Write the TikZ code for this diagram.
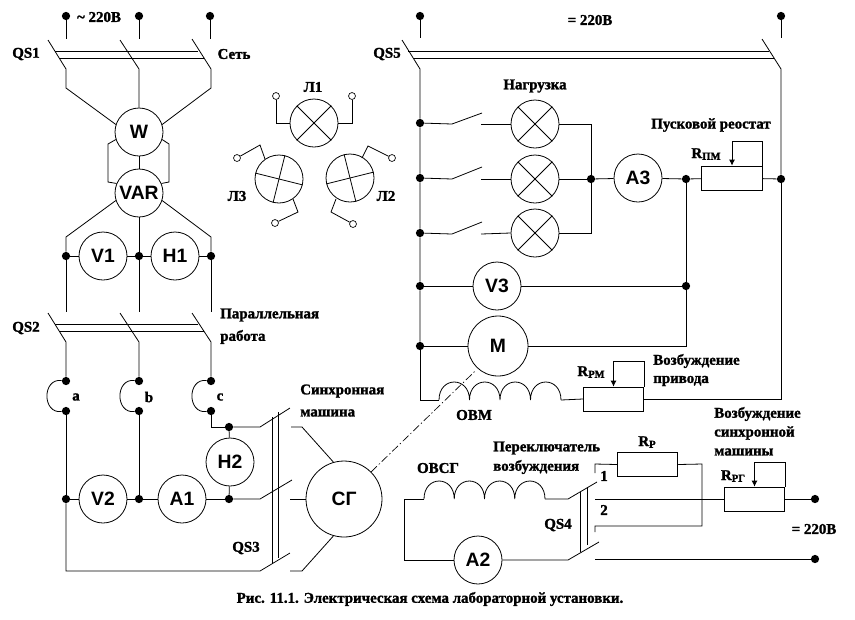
\documentclass[tikz,border=0pt]{standalone}
\usepackage{fontspec}
\setmainfont{Liberation Serif}[BoldFeatures={FakeBold=1.5}]
\newfontfamily\metfont{Liberation Sans}
\usetikzlibrary{arrows.meta}
\newcommand{\Rsb}[1]{R{\footnotesize\raisebox{-0.35ex}{#1}}}
\tikzset{
  wire/.style={line width=0.6pt,line join=miter},
  dotn/.style={circle,fill=black,inner sep=0pt,minimum size=6.2pt},
  openc/.style={circle,draw,line width=0.5pt,inner sep=0pt,minimum size=5.2pt},
  meter/.style={circle,draw,line width=0.6pt,inner sep=0pt,minimum size=36pt,font=\metfont\bfseries\fontsize{14.5}{16}\selectfont},
  lamp/.style={circle,draw,line width=0.6pt,inner sep=0pt,minimum size=36pt},
  rbox/.style={rectangle,draw,line width=0.6pt,inner sep=0pt,minimum width=45.5pt,minimum height=18pt},
  lbl/.style={font=\bfseries\fontsize{11.2}{12}\selectfont,inner sep=0pt},
  lbll/.style={lbl,anchor=west},
  slider/.style={wire,-{Latex[length=4.5pt,width=4.5pt]}},
  shaft/.style={line width=0.5pt,dash pattern=on 6pt off 2pt on 1pt off 2pt}
}
\begin{document}
\begin{tikzpicture}[x=0.75pt,y=-0.75pt]
\useasboundingbox (0,0) rectangle (855,619);
\fill[white] (0,0) rectangle (855,619);
% ---- top-left supply
\node[dotn] (t1) at (66,16) {};
\node[dotn] (t2) at (139,16) {};
\node[dotn] (t3) at (210,16) {};
\coordinate (t1e) at (66,39); \coordinate (t2e) at (139,39); \coordinate (t3e) at (210,39);
\draw[wire] (t1)--(t1e); \draw[wire] (t2)--(t2e); \draw[wire] (t3)--(t3e);
\node[meter] (W) at (139,132) {W};
\node[meter] (VAR) at (139,193) {VAR};
\node[meter] (V1) at (103,256) {V1};
\node[meter] (H1) at (175,256) {H1};
\node[dotn] (j1) at (66,256) {};
\node[dotn] (j2) at (139,256) {};
\node[dotn] (j3) at (211,256) {};
% QS1
\coordinate (q1a) at (48,40); \coordinate (q1b) at (120,40); \coordinate (q1c) at (192,39);
\draw[wire] (q1a)--(66,69)--(66,88)--(W.162);
\draw[wire] (q1b)--(139,69)--(W.north);
\draw[wire] (q1c)--(211,69)--(211,88)--(W.18);
\coordinate (b1l) at (55,51); \coordinate (b1r) at (198,51);
\coordinate (b2l) at (60,58); \coordinate (b2r) at (204,58);
\draw[wire] (b1l)--(b1r); \draw[wire] (b2l)--(b2r);
% W-VAR
\draw[wire] (W.198)--(108,144)--(108,182)--(VAR.157);
\draw[wire] (W.342)--(169,144)--(169,182)--(VAR.23);
\draw[wire] (W.south)--(VAR.north);
% VAR to buses
\draw[wire] (VAR.198)--(66,237)--(j1);
\draw[wire] (VAR.342)--(211,237)--(j3);
\draw[wire] (VAR.south)--(j2);
\draw[wire] (j1)--(V1)--(j2)--(H1)--(j3);
\coordinate (u1) at (66,312); \coordinate (u2) at (139,312); \coordinate (u3) at (211,312);
\draw[wire] (j1)--(u1); \draw[wire] (j2)--(u2); \draw[wire] (j3)--(u3);
% QS2
\node[dotn] (a1) at (66,381) {}; \node[dotn] (a2) at (66,411) {};
\node[dotn] (b1) at (139,381) {}; \node[dotn] (b2) at (139,411) {};
\node[dotn] (c1) at (211,381) {}; \node[dotn] (c2) at (211,411) {};
\coordinate (q2a) at (48,313); \coordinate (q2b) at (120,313); \coordinate (q2c) at (192,313);
\draw[wire] (q2a)--(66,342)--(a1);
\draw[wire] (q2b)--(139,342)--(b1);
\draw[wire] (q2c)--(211,342)--(c1);
\coordinate (b3l) at (55,324.5); \coordinate (b3r) at (198,324.5);
\coordinate (b4l) at (60,331); \coordinate (b4r) at (204,331);
\draw[wire] (b3l)--(b3r); \draw[wire] (b4l)--(b4r);
\draw[wire] (a1) .. controls (42,378) and (42,414) .. (a2);
\draw[wire] (b1) .. controls (115,378) and (115,414) .. (b2);
\draw[wire] (c1) .. controls (187,378) and (187,414) .. (c2);
% lower left
\node[meter] (V2) at (103,499) {V2};
\node[meter] (A1) at (182,499) {A1};
\node[meter] (H2) at (230,462) {H2};
\node[dotn] (k1) at (66,499) {};
\node[dotn] (k2) at (139,499) {};
\node[dotn] (k3) at (229,499) {};
\node[dotn] (k4) at (229,427) {};
\draw[wire] (a2)--(k1);
\draw[wire] (b2)--(k2);
\draw[wire] (c2)--(211,427)--(k4);
\draw[wire] (k1)--(V2)--(k2)--(A1)--(k3);
\draw[wire] (k4)--(H2)--(k3);
% QS3
\coordinate (s1) at (290,408); \coordinate (s2) at (292,480); \coordinate (s3) at (290,553);
\draw[wire] (k4)--(260,427)--(s1);
\draw[wire] (k3)--(260,499)--(s2);
\draw[wire] (k1)--(66,571)--(260,571)--(s3);
\coordinate (p1t) at (272,417); \coordinate (p1b) at (272,564);
\coordinate (p2t) at (278,412); \coordinate (p2b) at (278,558);
\draw[wire] (p1t)--(p1b); \draw[wire] (p2t)--(p2b);
\node[meter,minimum size=57pt] (SG) at (344,499) {СГ};
\coordinate (g1) at (291,427); \coordinate (g2) at (290,499); \coordinate (g3) at (290,571);
\draw[wire] (g1)--(302,427)--(SG.106);
\draw[wire] (g2)--(SG.west);
\draw[wire] (g3)--(302,571)--(SG.254);
% ---- lamps L1 L2 L3
\node[lamp] (L1) at (314,123) {};
\node[lamp] (L3) at (279,179) {};
\node[lamp] (L2) at (350,178) {};
\draw[wire] (L1.45)--(L1.225); \draw[wire] (L1.135)--(L1.315);
\draw[wire] (L3.76)--(L3.256); \draw[wire] (L3.166)--(L3.346);
\draw[wire] (L2.104)--(L2.284); \draw[wire] (L2.194)--(L2.14);
\node[openc] (o1) at (276,96) {};
\node[openc] (o2) at (352,96) {};
\node[openc] (o3) at (237,158) {};
\node[openc] (o4) at (275,223) {};
\node[openc] (o5) at (392,158) {};
\node[openc] (o6) at (353,224) {};
\draw[wire] (o1)--(276,123)--(L1.west);
\draw[wire] (o2)--(352,123)--(L1.east);
\draw[wire] (o3)--(260,145)--(265,159);
\draw[wire] (o4)--(298,212)--(293,199);
\draw[wire] (o5)--(368,146)--(362,158);
\draw[wire] (o6)--(331,212)--(336,199);
% ---- right top supply
\node[dotn] (t4) at (420,16) {};
\node[dotn] (t5) at (781,16) {};
\coordinate (t4e) at (420,38); \coordinate (t5e) at (781,38);
\draw[wire] (t4)--(t4e); \draw[wire] (t5)--(t5e);
\coordinate (q5a) at (402,40); \coordinate (q5b) at (762,39);
\coordinate (b5l) at (408,51); \coordinate (b5r) at (769,51);
\coordinate (b6l) at (413,58); \coordinate (b6r) at (774,58);
\draw[wire] (b5l)--(b5r); \draw[wire] (b6l)--(b6r);
\node[dotn] (n1) at (420,123) {};
\node[dotn] (n2) at (420,178) {};
\node[dotn] (n3) at (420,233) {};
\node[dotn] (n4) at (420,286) {};
\node[dotn] (n5) at (420,346) {};
\node[dotn] (m1) at (591,179) {};
\node[dotn] (m2) at (686,179) {};
\node[dotn] (m3) at (686,286) {};
\node[dotn] (m4) at (781,179) {};
\draw[wire] (q5a)--(420,69)--(n1)--(n2)--(n3)--(n4)--(n5);
\draw[wire] (q5b)--(781,69)--(m4);
\node[lamp] (La) at (535,124) {};
\node[lamp] (Lb) at (535,179) {};
\node[lamp] (Lc) at (535,233) {};
\foreach \n in {La,Lb,Lc}{
  \draw[wire] (\n.45)--(\n.225); \draw[wire] (\n.135)--(\n.315);
}
\coordinate (sa) at (482,113); \coordinate (sb) at (482,167); \coordinate (sc) at (482,222);
\coordinate (ca) at (481,124); \coordinate (cb) at (481,179); \coordinate (cc) at (481,234);
\draw[wire] (n1)--(452,124)--(sa); \draw[wire] (n2)--(452,179)--(sb); \draw[wire] (n3)--(452,234)--(sc);
\draw[wire] (ca)--(La.west); \draw[wire] (cb)--(Lb.west); \draw[wire] (cc)--(Lc.west);
\draw[wire] (La.east)--(591,124)--(m1);
\draw[wire] (Lc.east)--(591,233)--(m1);
\draw[wire] (Lb.east)--(m1);
\node[meter] (A3) at (638,178) {A3};
\draw[wire] (m1)--(A3)--(m2);
\node[rbox] (Rpm) at (732,178) {};
\draw[wire] (m2)--(Rpm);
\draw[wire] (Rpm)--(m4);
\draw[slider] (Rpm.north east)--++(0,-24) -| (Rpm.north);
\node[meter] (V3) at (497,286) {V3};
\draw[wire] (n4)--(V3)--(m3);
\draw[wire] (m2)--(m3);
\node[meter,minimum size=45pt] (M) at (498,346) {M};
\draw[wire] (n5)--(M);
\draw[wire] (M)--(686,346)--(m3);
% OVM
\node[rbox] (Rrm) at (613.5,399) {};
\coordinate (ovm1) at (439,400); \coordinate (ovm2) at (561,400);
\draw[wire] (n5)--(420,400)--(ovm1);
\draw[wire] (ovm1)
  .. controls +(0,-24) and +(0,-24) .. +(30.5,0)
  .. controls +(0,-24) and +(0,-24) .. +(61,0)
  .. controls +(0,-24) and +(0,-24) .. +(91.5,0)
  .. controls +(0,-24) and +(0,-24) .. (ovm2);
\draw[wire] (ovm2)--(Rrm.west);
\draw[wire] (Rrm.east)--(781,399)--(m4);
\draw[slider] (Rrm.north east)--++(0,-25) -| (Rrm.north);
\draw[shaft,shorten >=3pt] (SG.45)--(M.228);
% ---- bottom-right
\node[meter] (A2) at (478,560) {A2};
\coordinate (ov1) at (424,499); \coordinate (ov2) at (545,499);
\draw[wire] (ov1)
  .. controls +(0,-24) and +(0,-24) .. +(30.25,0)
  .. controls +(0,-24) and +(0,-24) .. +(60.5,0)
  .. controls +(0,-24) and +(0,-24) .. +(90.75,0)
  .. controls +(0,-24) and +(0,-24) .. (ov2);
\coordinate (bl1) at (597,482); \coordinate (bl2) at (599,542);
\draw[wire] (ov2)--(568,499)--(bl1);
\draw[wire] (ov1)--(404,499)--(404,560)--(A2.west);
\draw[wire] (A2.east)--(568,560)--(bl2);
\coordinate (p3t) at (580,492); \coordinate (p3b) at (580,552);
\coordinate (p4t) at (587,487); \coordinate (p4b) at (587,545);
\draw[wire] (p3t)--(p3b); \draw[wire] (p4t)--(p4b);
\node[rbox] (Rp) at (647.5,464.5) {};
\node[rbox] (Rrg) at (754.5,499) {};
\node[dotn] (e1) at (815,499) {};
\node[dotn] (e2) at (815,559) {};
\coordinate (ct1) at (595,473); \coordinate (ct2) at (595,499);
\coordinate (ct3) at (595,532); \coordinate (ct4) at (595,559);
\draw[wire] (ct1)--(595,464)--(Rp.west);
\draw[wire] (Rp.east)--(702,464)--(702,526)--(595,526)--(ct3);
\draw[wire] (ct2)--(Rrg.west);
\draw[wire] (Rrg.east)--(e1);
\draw[wire] (ct4)--(e2);
\draw[slider] (Rrg.north east)--++(0,-24) -| (Rrg.north);
% ---- labels
\node[lbl] (x1) at (99,17) {\textasciitilde{} 220В};
\node[lbl] (x2) at (590,20) {= 220В};
\node[lbl] (x3) at (26,54) {QS1};
\node[lbl] (x4) at (234,54) {Сеть};
\node[lbl] (x5) at (26,328) {QS2};
\node[lbl] (x6) at (387,54) {QS5};
\node[lbl] (x7) at (313,87) {Л1};
\node[lbl] (x8) at (237,196) {Л3};
\node[lbl] (x9) at (386,196) {Л2};
\node[lbll] (x10) at (220,315) {Параллельная};
\node[lbll] (x11) at (220,337) {работа};
\node[lbl] (x12) at (76,397) {a};
\node[lbl] (x13) at (149,397) {b};
\node[lbl] (x14) at (220,397) {c};
\node[lbll] (x15) at (300,391) {Синхронная};
\node[lbll] (x16) at (300,413) {машина};
\node[lbl] (x17) at (246,548) {QS3};
\node[lbl] (x18) at (535,86) {Нагрузка};
\node[lbl] (x19) at (711,125) {Пусковой реостат};
\node[lbl] (x20) at (706,154) {\Rsb{ПМ}};
\node[lbll] (x21) at (653,361) {Возбуждение};
\node[lbll] (x22) at (653,381) {привода};
\node[lbl] (x23) at (591,372) {\Rsb{РМ}};
\node[lbl] (x24) at (474,415) {ОВМ};
\node[lbll] (x25) at (714,414) {Возбуждение};
\node[lbll] (x26) at (714,433) {синхронной};
\node[lbll] (x27) at (714,452) {машины};
\node[lbll] (x28) at (493,448) {Переключатель};
\node[lbll] (x29) at (493,467) {возбуждения};
\node[lbl] (x30) at (438,468) {ОВСГ};
\node[lbl] (x31) at (647,442) {\Rsb{Р}};
\node[lbl] (x32) at (733,476) {\Rsb{РГ}};
\node[lbl] (x33) at (604,476) {1};
\node[lbl] (x34) at (604,510) {2};
\node[lbl] (x35) at (558,525) {QS4};
\node[lbl] (x36) at (814,529) {= 220В};
\node[lbl] (x37) at (430,599) {Рис. 11.1. Электрическая схема лабораторной установки.};
\end{tikzpicture}
\end{document}
